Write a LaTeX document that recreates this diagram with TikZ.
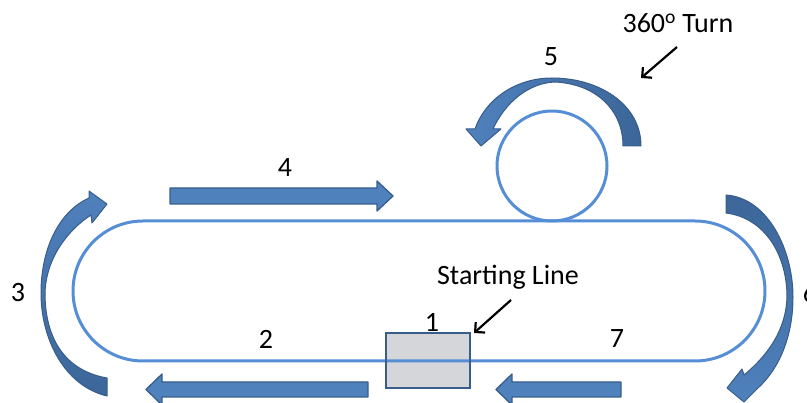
\documentclass[tikz,border=0pt]{standalone}
\usepackage{fontspec}
\setmainfont{Carlito}
\usetikzlibrary{arrows.meta}
\definecolor{trackblue}{HTML}{558ED5}
\definecolor{arrowfill}{HTML}{4F81BD}
\definecolor{arrowdark}{HTML}{3C6699}
\definecolor{arrowedge}{HTML}{385D8A}
\definecolor{boxfill}{HTML}{D4D6D9}
\begin{document}
\begin{tikzpicture}[x=1pt,y=-1pt,
  trackline/.style={draw=trackblue, line width=3pt},
  blockarrow/.style={fill=arrowfill, draw=arrowedge, line width=1.3pt, line join=round},
  curvedarrow/.style={draw=arrowedge, line width=1pt, line join=round},
  lbl/.style={font=\fontsize{28}{32}\selectfont, inner sep=0pt},
  callout/.style={draw=black, line width=2.2pt, -{Straight Barb[length=7pt,width=14pt]}}]
\useasboundingbox (0,0) rectangle (807,403);
% starting box fill
\fill[boxfill] (386,333) rectangle (470,388);
% track and circle
\draw[trackline, rounded corners=70pt] (73,221) rectangle (765,361);
\draw[trackline] (552,166) circle[radius=55pt];
% starting box border
\draw[draw=arrowedge, line width=2pt] (386,333) rectangle (470,388);
% straight arrows
\draw[blockarrow] (170,188) -- (377,188) -- (377,181) -- (393,196) -- (377,211) -- (377,204) -- (170,204) -- cycle;
\draw[blockarrow] (368,382) -- (162,382) -- (162,374) -- (146,389.5) -- (162,405) -- (162,397) -- (368,397) -- cycle;
\draw[blockarrow] (621,382) -- (512,382) -- (512,374) -- (496,389.5) -- (512,405) -- (512,397) -- (621,397) -- cycle;
% curved arrow 3
\shadedraw[curvedarrow, top color=arrowfill, bottom color=arrowdark]
  (107,396) .. controls (65,386) and (41,340) .. (41,293)
  .. controls (41,250) and (58,212) .. (89,198)
  -- (89,191) -- (107,204) -- (92,223) -- (91,215)
  .. controls (68,230) and (46,258) .. (45,293)
  .. controls (45,335) and (62,370) .. (107,378) -- cycle;
% curved arrow 6
\shadedraw[curvedarrow, top color=arrowdark, bottom color=arrowfill]
  (726,195) .. controls (768,198) and (793,250) .. (793,297)
  .. controls (793,335) and (780,368) .. (758,388)
  -- (744,402) -- (727,388) -- (742,369) -- (744,375)
  .. controls (768,355) and (786,330) .. (787,297)
  .. controls (787,255) and (765,218) .. (726,213) -- cycle;
% curved arrow 5
\shadedraw[curvedarrow, left color=arrowfill, right color=arrowdark]
  (641,146) .. controls (641,105) and (600,78) .. (552,78)
  .. controls (515,78) and (485,100) .. (475,129)
  -- (466,129) -- (481,146) -- (501,129) -- (493,129)
  .. controls (505,103) and (528,83) .. (555,82)
  .. controls (596,84) and (623,110) .. (623,146) -- cycle;
% labels
\node[lbl] (n1) at (432,322) {1};
\node[lbl] (n2) at (266,339) {2};
\node[lbl] (n3) at (18,293) {3};
\node[lbl] (n4) at (285,168) {4};
\node[lbl] (n5) at (551,57) {5};
\node[lbl] (n6) at (810,293) {6};
\node[lbl] (n7) at (617,339) {7};
\node[lbl] (turn) at (678,23) {360\textsuperscript{o} Turn};
\node[lbl] (start) at (508,277) {Starting Line};
% callout arrows
\coordinate (turnA) at (677,47);
\coordinate (turnB) at (641,78);
\draw[callout] (turnA) -- (turnB);
\coordinate (startA) at (511,300);
\coordinate (startB) at (474,333);
\draw[callout] (startA) -- (startB);
\end{tikzpicture}
\end{document}
